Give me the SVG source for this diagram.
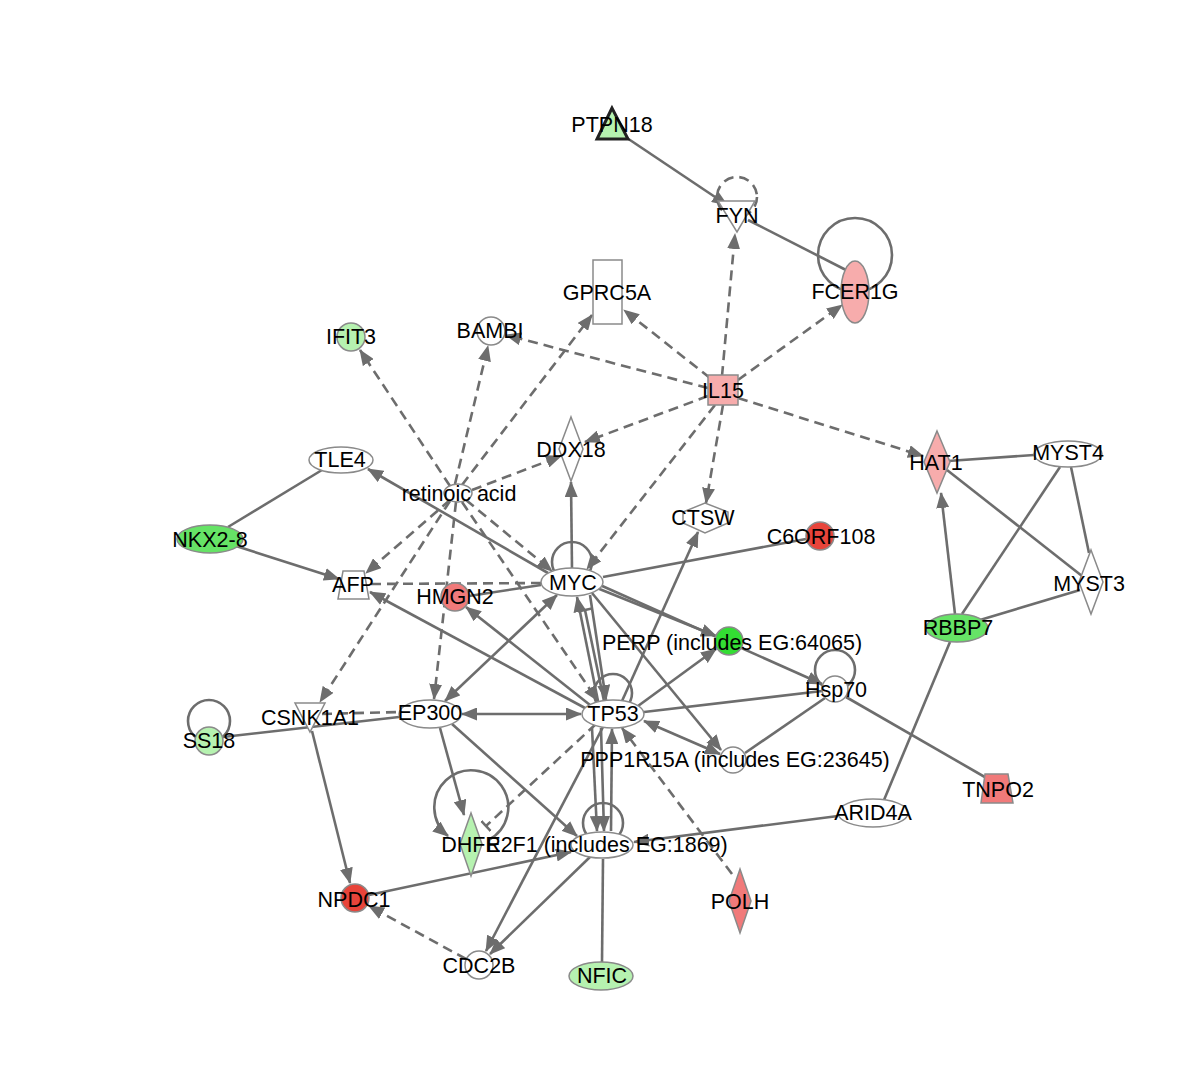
<svg xmlns="http://www.w3.org/2000/svg" width="1200" height="1070" viewBox="0 0 1200 1070">
<style>
.e{stroke:#6d6d6d;stroke-width:2.6;fill:none}
.d{stroke-dasharray:10 6}
.n{stroke:#8a8a8a;stroke-width:1.5}
.w{fill:#fff}
.lg{fill:#b6f2b0}
.mg{fill:#66e366}
.bg{fill:#33dd33}
.lr{fill:#f7acac}
.mr{fill:#f17a7a}
.dr{fill:#e8443a}
text{font-family:"Liberation Sans",Arial,sans-serif;font-size:21.5px;text-anchor:middle;fill:#000}
</style>
<defs>
<marker id="a" viewBox="0 0 16 13" refX="15" refY="6.5" markerWidth="16" markerHeight="13" markerUnits="userSpaceOnUse" orient="auto-start-reverse"><path d="M0,0L16,6.5L0,13z" fill="#6d6d6d"/></marker>
<marker id="t" viewBox="0 0 4 14" refX="2" refY="7" markerWidth="4" markerHeight="14" markerUnits="userSpaceOnUse" orient="auto"><path d="M2,0V14" stroke="#6d6d6d" stroke-width="2.5"/></marker>
</defs>
<rect width="1200" height="1070" fill="#fff"/>
<g id="connectors">
<circle class="e d" cx="737" cy="197" r="20"/>
<circle class="e" cx="855" cy="255" r="37"/>
<circle class="e" cx="572" cy="562" r="20"/>
<circle class="e" cx="613" cy="693" r="19"/>
<circle class="e" cx="835" cy="670" r="20"/>
<circle class="e" cx="603" cy="823" r="20"/>
<circle class="e" cx="209" cy="721" r="21"/>
<path class="e" d="M488.5,840 A37,37 0 1 0 448,836" marker-end="url(#a)"/>
<line class="e" x1="624" y1="136" x2="727" y2="205" marker-end="url(#a)"/>
<line class="e" x1="748" y1="220" x2="846" y2="270"/>
<line class="e d" x1="722" y1="376" x2="735" y2="234" marker-end="url(#a)"/>
<line class="e d" x1="738" y1="380" x2="842" y2="305" marker-end="url(#a)"/>
<line class="e d" x1="710" y1="378" x2="624" y2="310" marker-end="url(#a)"/>
<line class="e d" x1="708" y1="388" x2="506" y2="335" marker-end="url(#a)"/>
<line class="e d" x1="708" y1="396" x2="585" y2="442" marker-end="url(#a)"/>
<line class="e d" x1="738" y1="398" x2="923" y2="456" marker-end="url(#a)"/>
<line class="e d" x1="723" y1="405" x2="706" y2="503" marker-end="url(#a)"/>
<line class="e d" x1="715" y1="405" x2="587" y2="569" marker-end="url(#a)"/>
<line class="e d" x1="450" y1="486" x2="360" y2="350" marker-end="url(#a)"/>
<line class="e d" x1="455" y1="484" x2="488" y2="346" marker-end="url(#a)"/>
<line class="e d" x1="462" y1="485" x2="592" y2="315" marker-end="url(#a)"/>
<line class="e d" x1="472" y1="490" x2="561" y2="456" marker-end="url(#a)"/>
<line class="e d" x1="450" y1="500" x2="366" y2="573" marker-end="url(#a)"/>
<line class="e d" x1="466" y1="500" x2="552" y2="571" marker-end="url(#a)"/>
<line class="e d" x1="456" y1="502" x2="434" y2="699" marker-end="url(#a)"/>
<line class="e d" x1="450" y1="501" x2="320" y2="702" marker-end="url(#a)"/>
<line class="e d" x1="462" y1="502" x2="598" y2="701" marker-end="url(#a)"/>
<line class="e" x1="548" y1="573" x2="368" y2="469" marker-end="url(#a)"/>
<line class="e" x1="572" y1="568" x2="571" y2="482" marker-end="url(#a)"/>
<line class="e" x1="603" y1="577" x2="806" y2="539"/>
<line class="e" x1="541" y1="585" x2="469" y2="596"/>
<line class="e d" x1="541" y1="583" x2="370" y2="584"/>
<line class="e" x1="585" y1="708" x2="370" y2="592" marker-end="url(#a)"/>
<line class="e" x1="590" y1="705" x2="466" y2="607" marker-end="url(#a)"/>
<line class="e" x1="445" y1="701" x2="557" y2="595" marker-start="url(#a)" marker-end="url(#a)"/>
<line class="e" x1="598" y1="701" x2="577" y2="597" marker-end="url(#a)"/>
<line class="e" x1="604" y1="701" x2="585" y2="610" marker-end="url(#t)"/>
<line class="e" x1="590" y1="595" x2="606" y2="700" marker-end="url(#a)"/>
<line class="e" x1="597" y1="588" x2="716" y2="636" marker-end="url(#a)"/>
<line class="e" x1="600" y1="585" x2="822" y2="684" marker-end="url(#a)"/>
<line class="e" x1="592" y1="593" x2="721" y2="750" marker-end="url(#a)"/>
<line class="e" x1="638" y1="706" x2="716" y2="649" marker-end="url(#a)"/>
<line class="e" x1="644" y1="712" x2="822" y2="691"/>
<line class="e" x1="644" y1="721" x2="720" y2="754" marker-start="url(#a)" marker-end="url(#a)"/>
<line class="e" x1="745" y1="753" x2="825" y2="698"/>
<line class="e" x1="846" y1="697" x2="990" y2="780"/>
<line class="e" x1="622" y1="701" x2="698" y2="532" marker-end="url(#a)"/>
<line class="e" x1="462" y1="714" x2="581" y2="714" marker-start="url(#a)" marker-end="url(#a)"/>
<line class="e d" x1="322" y1="714" x2="399" y2="712"/>
<line class="e" x1="223" y1="737" x2="399" y2="717"/>
<line class="e" x1="312" y1="731" x2="350" y2="883" marker-end="url(#a)"/>
<line class="e" x1="440" y1="728" x2="464" y2="815" marker-end="url(#a)"/>
<line class="e" x1="452" y1="724" x2="577" y2="836" marker-end="url(#a)"/>
<line class="e d" x1="596" y1="724" x2="486" y2="826" marker-end="url(#t)"/>
<line class="e" x1="592" y1="728" x2="597" y2="831" marker-end="url(#a)"/>
<line class="e" x1="601" y1="728" x2="604" y2="831" marker-end="url(#a)"/>
<line class="e" x1="611" y1="831" x2="612" y2="729" marker-end="url(#a)"/>
<line class="e" x1="602" y1="962" x2="603" y2="859"/>
<line class="e" x1="838" y1="816" x2="634" y2="842" marker-end="url(#a)"/>
<line class="e" x1="884" y1="800" x2="950" y2="642"/>
<line class="e" x1="369" y1="895" x2="571" y2="852" marker-end="url(#a)"/>
<line class="e" x1="590" y1="857" x2="490" y2="954" marker-end="url(#a)"/>
<line class="e" x1="603" y1="727" x2="486" y2="951" marker-end="url(#a)"/>
<line class="e d" x1="466" y1="959" x2="369" y2="906" marker-end="url(#a)"/>
<line class="e d" x1="732" y1="874" x2="622" y2="728" marker-end="url(#a)"/>
<line class="e" x1="228" y1="527" x2="322" y2="470"/>
<line class="e" x1="236" y1="546" x2="339" y2="579" marker-end="url(#a)"/>
<line class="e" x1="948" y1="461" x2="1034" y2="455"/>
<line class="e" x1="947" y1="470" x2="1082" y2="576"/>
<line class="e" x1="1071" y1="467" x2="1089" y2="553"/>
<line class="e" x1="1060" y1="467" x2="962" y2="614"/>
<line class="e" x1="955" y1="614" x2="941" y2="493" marker-end="url(#a)"/>
<line class="e" x1="980" y1="620" x2="1080" y2="590"/>
</g>
<g id="PTPN18"><polygon points="612,108 597,139 628,139" class="lg" stroke="#222" stroke-width="3"/><text x="612" y="132">PTPN18</text></g>
<g id="FYN"><polygon points="718,201 755,201 737,232" class="w n"/><text x="737" y="223">FYN</text></g>
<g id="FCER1G"><ellipse cx="855" cy="292" rx="14" ry="31" class="lr n"/><text x="855" y="299">FCER1G</text></g>
<g id="GPRC5A"><rect x="593" y="260" width="29" height="64" class="w n"/><text x="607" y="300">GPRC5A</text></g>
<g id="BAMBI"><circle cx="491" cy="331" r="14" class="w n"/><text x="490" y="338">BAMBI</text></g>
<g id="IFIT3"><circle cx="351" cy="337" r="14" class="lg n"/><text x="351" y="344">IFIT3</text></g>
<g id="IL15"><rect x="708" y="375" width="30" height="30" class="lr n"/><text x="723" y="398">IL15</text></g>
<g id="DDX18"><polygon points="571,417 583,449 571,481 559,449" class="w n"/><text x="571" y="457">DDX18</text></g>
<g id="retinoic_acid"><ellipse cx="458" cy="493" rx="14" ry="9" class="w n"/><text x="459" y="501">retinoic acid</text></g>
<g id="CTSW"><polygon points="683,512 705,503 728,512 728,523 705,533 683,523" class="w n"/><text x="703" y="525">CTSW</text></g>
<g id="TLE4"><ellipse cx="341" cy="460" rx="32" ry="13" class="w n"/><text x="340" y="467">TLE4</text></g>
<g id="NKX2-8"><ellipse cx="210" cy="539" rx="33" ry="14" class="mg n"/><text x="210" y="547">NKX2-8</text></g>
<g id="AFP"><polygon points="343,571 364,571 369,599 338,599" class="w n"/><text x="353" y="592">AFP</text></g>
<g id="HMGN2"><circle cx="455" cy="597" r="14" class="mr n"/><text x="455" y="604">HMGN2</text></g>
<g id="MYC"><ellipse cx="572" cy="582" rx="31" ry="14" class="w n"/><text x="573" y="590">MYC</text></g>
<g id="C6ORF108"><circle cx="820" cy="536" r="14" class="dr n"/><text x="821" y="544">C6ORF108</text></g>
<g id="HAT1"><polygon points="937,431 950,462 937,493 924,462" class="lr n"/><text x="936" y="470">HAT1</text></g>
<g id="MYST4"><ellipse cx="1068" cy="454" rx="34" ry="13" class="w n"/><text x="1068" y="460">MYST4</text></g>
<g id="MYST3"><polygon points="1091,550 1103,582 1091,614 1079,582" class="w n"/><text x="1089" y="591">MYST3</text></g>
<g id="RBBP7"><ellipse cx="957" cy="628" rx="31" ry="14" class="mg n"/><text x="958" y="635">RBBP7</text></g>
<g id="PERP"><circle cx="729" cy="641" r="14" class="bg n"/><text x="732" y="650">PERP (includes EG:64065)</text></g>
<g id="Hsp70"><circle cx="835" cy="689" r="13" class="w n"/><text x="836" y="697">Hsp70</text></g>
<g id="TP53"><ellipse cx="613" cy="714" rx="31" ry="14" class="w n"/><text x="613" y="721">TP53</text></g>
<g id="PPP1R15A"><circle cx="733" cy="760" r="13" class="w n"/><text x="735" y="767">PPP1R15A (includes EG:23645)</text></g>
<g id="EP300"><ellipse cx="430" cy="714" rx="31" ry="14" class="w n"/><text x="430" y="720">EP300</text></g>
<g id="CSNK1A1"><polygon points="295,703 325,703 310,732" class="w n"/><text x="310" y="725">CSNK1A1</text></g>
<g id="SS18"><circle cx="209" cy="741" r="14" class="lg n"/><text x="209" y="748">SS18</text></g>
<g id="TNPO2"><polygon points="985,774 1008,774 1013,803 981,803" class="mr n"/><text x="998" y="797">TNPO2</text></g>
<g id="ARID4A"><ellipse cx="873" cy="813" rx="35" ry="14" class="w n"/><text x="873" y="820">ARID4A</text></g>
<g id="DHFR"><polygon points="471,813 482,844 471,876 460,844" class="lg n"/><text x="471" y="852">DHFR</text></g>
<g id="E2F1"><ellipse cx="602" cy="845" rx="31" ry="13" class="w n"/><text x="607" y="852">E2F1 (includes EG:1869)</text></g>
<g id="NPDC1"><circle cx="355" cy="898" r="14" class="dr n"/><text x="354" y="907">NPDC1</text></g>
<g id="CDC2B"><circle cx="479" cy="965" r="14" class="w n"/><text x="479" y="973">CDC2B</text></g>
<g id="NFIC"><ellipse cx="601" cy="976" rx="32" ry="14" class="lg n"/><text x="602" y="983">NFIC</text></g>
<g id="POLH"><polygon points="740,869 751,901 740,933 729,901" class="mr n"/><text x="740" y="909">POLH</text></g>
</svg>
